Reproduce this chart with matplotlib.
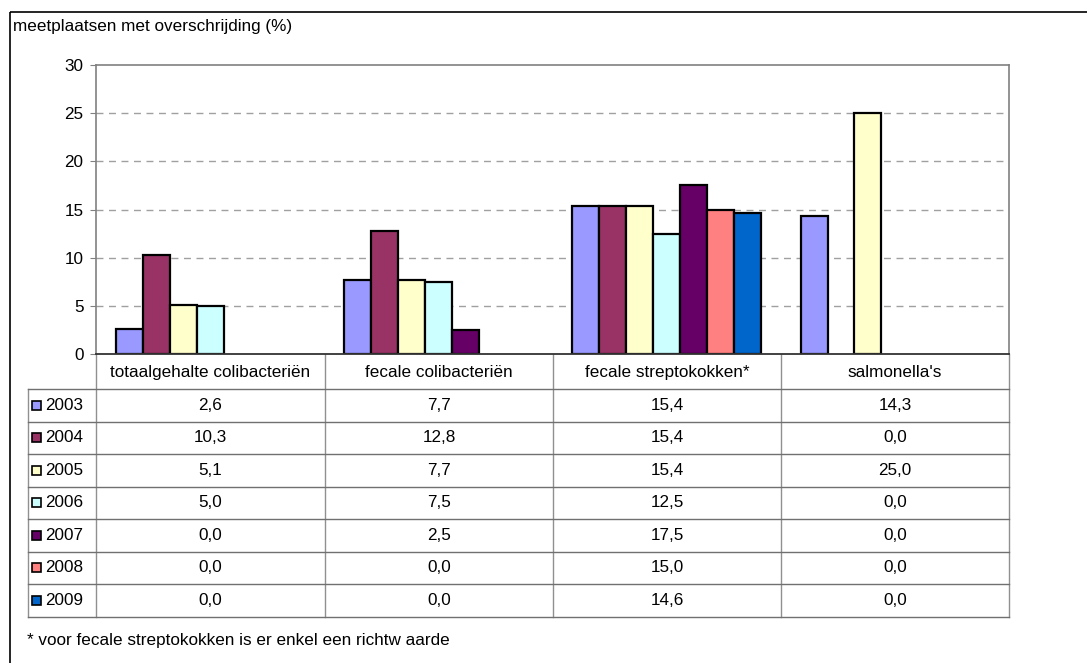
import matplotlib
matplotlib.use("Agg")
import matplotlib.pyplot as plt
from matplotlib.patches import Rectangle
import numpy as np

plt.rcParams['font.family'] = ['Liberation Sans', 'DejaVu Sans']

categories = ["totaalgehalte colibacteriën", "fecale colibacteriën",
              "fecale streptokokken*", "salmonella's"]
years = ["2003", "2004", "2005", "2006", "2007", "2008", "2009"]
values = {
    "2003": [2.6, 7.7, 15.4, 14.3],
    "2004": [10.3, 12.8, 15.4, 0.0],
    "2005": [5.1, 7.7, 15.4, 25.0],
    "2006": [5.0, 7.5, 12.5, 0.0],
    "2007": [0.0, 2.5, 17.5, 0.0],
    "2008": [0.0, 0.0, 15.0, 0.0],
    "2009": [0.0, 0.0, 14.6, 0.0],
}
colors = ["#9999FF", "#993366", "#FFFFCC", "#CCFFFF", "#660066", "#FF8080", "#0066CC"]
yticks = [0, 5, 10, 15, 20, 25, 30]
ylabel = "meetplaatsen met overschrijding (%)"
footnote = "* voor fecale streptokokken is er enkel een richtw aarde"

FS = 12.3
W, H = 1087, 663
fig = plt.figure(figsize=(W / 100, H / 100), dpi=100)

# overlay in pixel coordinates
ov = fig.add_axes([0, 0, 1, 1])
ov.set_xlim(0, W)
ov.set_ylim(H, 0)
ov.axis("off")

# outer chart border (left and top visible)
ov.add_patch(Rectangle((10, 12), W + 20, H + 20, fill=False, edgecolor="#000000", lw=1.2))

# plot area
L, R, T, B = 96, 1009, 65, 354
ax = fig.add_axes([L / W, 1 - B / H, (R - L) / W, (B - T) / H])
ax.set_xlim(0, len(categories))
ax.set_ylim(0, 30)

bw = 0.118
n = len(years)
x0 = np.arange(len(categories)) + 0.5
for i, (yr, c) in enumerate(zip(years, colors)):
    vals = values[yr]
    xs = x0 + (i - (n - 1) / 2) * bw
    lws = [1.6 if v > 0 else 0 for v in vals]
    ax.bar(xs, vals, width=bw, color=c, edgecolor="#000000", linewidth=lws, zorder=3)

for t in yticks[1:-1]:
    ax.axhline(t, color="#A0A0A0", lw=1.0, ls=(0, (5, 4)), zorder=1)

ax.set_yticks(yticks)
ax.set_yticklabels([str(t) for t in yticks], fontsize=FS)
ax.set_xticks([])
ax.tick_params(axis="y", length=4, width=0.8, color="#808080", pad=5)
for s in ["top", "right", "left"]:
    ax.spines[s].set_color("#808080")
    ax.spines[s].set_linewidth(1.2)
ax.spines["bottom"].set_color("#333333")
ax.spines["bottom"].set_linewidth(1.3)
ax.spines["bottom"].set_zorder(5)

# title
ov.text(13, 27, ylabel, fontsize=FS, va="center", ha="left", color="#000000")

# data table
col_x = [L, 325, 553, 781, R]
leg_left = 28
header_bottom = 389
row_h = (616.7 - header_bottom) / n
gc = "#909090"
for x in col_x:
    ov.plot([x, x], [B, 616.7], color=gc, lw=1.0)
ov.plot([leg_left, leg_left], [header_bottom, 616.7], color=gc, lw=1.0)
for r in range(n + 1):
    y = header_bottom + r * row_h
    ov.plot([leg_left, R], [y, y], color="#707070", lw=1.0)
for j, cat in enumerate(categories):
    cx = (col_x[j] + col_x[j + 1]) / 2
    ov.text(cx, (B + header_bottom) / 2 + 1, cat, fontsize=FS, ha="center", va="center")
for i, (yr, c) in enumerate(zip(years, colors)):
    yc = header_bottom + (i + 0.5) * row_h
    ov.add_patch(Rectangle((32, yc - 4.5), 9, 9, facecolor=c, edgecolor="#000000", lw=1.2))
    ov.text(45, yc, yr, fontsize=FS, ha="left", va="center")
    for j, v in enumerate(values[yr]):
        cx = (col_x[j] + col_x[j + 1]) / 2
        ov.text(cx, yc, f"{v:.1f}".replace(".", ","), fontsize=FS, ha="center", va="center")

ov.text(27, 641, footnote, fontsize=12.3, ha="left", va="center")

fig.savefig("out.png", dpi=100)
